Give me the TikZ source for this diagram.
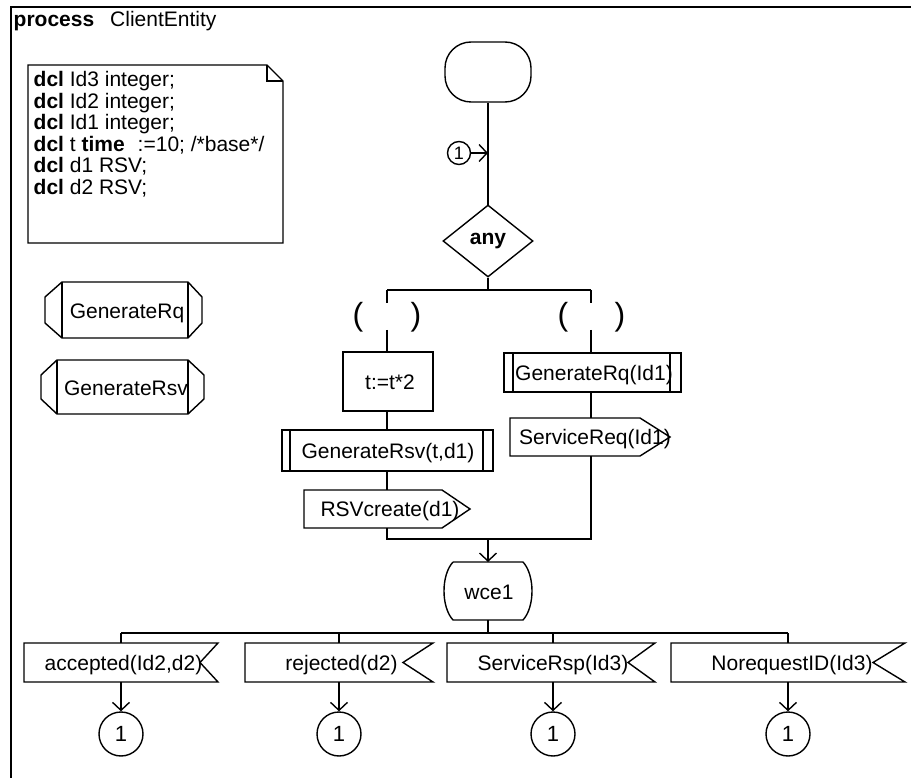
\documentclass[tikz,border=0pt]{standalone}
\usepackage{fontspec}
\setmainfont{Liberation Sans}
\usetikzlibrary{arrows.meta,shapes.geometric}
\begin{document}
\begin{tikzpicture}[x=1pt,y=-1pt,
  line width=1.4pt,
  every node/.style={font=\fontsize{21}{17}\selectfont},
  sh/.style={inner sep=0pt,outer sep=0pt,draw=none},
  txt/.style={inner sep=0pt,outer sep=0pt,text height=15pt,text depth=0pt},
  dclline/.style={anchor=base west,inner sep=0pt},
  arr/.style={-{Straight Barb[length=8pt,width=17pt,line width=1.4pt]}},
  conn/.style={circle,draw,inner sep=0pt,minimum size=44pt,font=\fontsize{22}{22}\selectfont},
  paren/.style={inner sep=0pt,font=\fontsize{32}{32}\selectfont},
]
\fill[white] (0,0) rectangle (911,778);
\useasboundingbox (0,0) rectangle (911,778);

% frame
\draw[line width=2pt] (911,7) -- (11,7) -- (11,778);
\node[anchor=base west,inner sep=0pt] (title) at (13,27) {\textbf{process}\hspace{16pt}ClientEntity};

% declarations
\node[sh,minimum width=255pt,minimum height=178pt] (dclbox) at (155.5,154) {};
\draw (28,65) -- (267,65) -- (283,81) -- (283,243) -- (28,243) -- cycle;
\draw (267,65) -- (267,81) -- (283,81);
\node[dclline] (dcl1) at (33,87)    {\textbf{dcl} Id3 integer;};
\node[dclline] (dcl2) at (33,108.5) {\textbf{dcl} Id2 integer;};
\node[dclline] (dcl3) at (33,130)   {\textbf{dcl} Id1 integer;};
\node[dclline] (dcl4) at (33,151.5) {\textbf{dcl} t \textbf{time}\hspace{13pt}:=10; /*base*/};
\node[dclline] (dcl5) at (33,173)   {\textbf{dcl} d1 RSV;};
\node[dclline] (dcl6) at (33,194.5) {\textbf{dcl} d2 RSV;};

% procedure references
\node[sh,minimum width=157pt,minimum height=56pt] (pr1) at (123.5,310) {};
\draw (62,282) -- (188,282) -- (202,297) -- (202,323) -- (188,338) -- (62,338) -- (45,323) -- (45,297) -- cycle;
\draw (62,282) -- (62,338) (188,282) -- (188,338);
\node[txt] (pr1t) at (127,311) {GenerateRq};
\node[sh,minimum width=163pt,minimum height=54pt] (pr2) at (122.5,387) {};
\draw (57,360) -- (188,360) -- (204,375) -- (204,399) -- (188,414) -- (57,414) -- (41,399) -- (41,375) -- cycle;
\draw (57,360) -- (57,414) (188,360) -- (188,414);
\node[txt] (pr2t) at (126,388) {GenerateRsv};

% start, connector, decision
\node[draw,rounded corners=26pt,minimum width=86pt,minimum height=60pt,inner sep=0pt] (start) at (488,72) {};
\node[circle,draw,inner sep=0pt,minimum size=23pt,font=\fontsize{18}{18}\selectfont] (c0) at (459,153) {1};
\draw (start.south) -- (start.south |- c0.east);
\draw (start.south |- c0.east) -- ++(0,52);
\draw[arr] (c0.east) -- (c0.east -| start.south);
\node[diamond,draw,minimum width=90pt,minimum height=72pt,inner sep=0pt] (any) at (488,241) {\textbf{any}};
\draw (start.south |- any.north) -- (any.north);

% branches
\coordinate (bl) at (387,290);
\coordinate (br) at (591,290);
\coordinate (bl1) at (387,303);
\coordinate (br1) at (591,303);
\coordinate (bl2) at (387,330);
\coordinate (br2) at (591,330);
\draw (any.south) -- (any.south |- bl);
\draw (bl) -- (br);
\draw (bl) -- (bl1);
\draw (br) -- (br1);
\node[paren] (p1) at (358,317) {(};
\node[paren] (p2) at (416,317) {)};
\node[paren] (p3) at (563,317) {(};
\node[paren] (p4) at (620,317) {)};

% left branch
\node[draw,minimum width=90pt,minimum height=59pt,inner sep=0pt] (tbox) at (388,381.5) {};
\node[txt] (tboxt) at (390,382) {t:=t*2};
\draw (bl2) -- (bl2 |- tbox.north);
\node[draw,minimum width=211pt,minimum height=41pt,inner sep=0pt] (grsv) at (387.5,450.5) {};
\node[txt] (grsvt) at (388,451) {GenerateRsv(t,d1)};
\draw (290,430) -- (290,471) (483,430) -- (483,471);
\draw (bl2 |- tbox.south) -- (bl2 |- grsv.north);
\node[sh,minimum width=166pt,minimum height=38pt] (rsvc) at (387,509) {};
\draw (304,490) -- (442,490) -- (470,509) -- (442,528) -- (304,528) -- cycle;
\node[txt] (rsvct) at (390,509) {RSVcreate(d1)};
\draw (bl2 |- grsv.south) -- (bl2 |- rsvc.north);

% right branch
\node[draw,minimum width=177pt,minimum height=39pt,inner sep=0pt] (grq) at (592.5,372.5) {};
\node[txt] (grqt) at (594,373) {GenerateRq(Id1)};
\draw (513,353) -- (513,392) (670,353) -- (670,392);
\draw (br2) -- (br2 |- grq.north);
\node[sh,minimum width=160pt,minimum height=38pt] (sreq) at (590,437) {};
\draw (510,418) -- (640,418) -- (670,437) -- (640,456) -- (510,456) -- cycle;
\node[txt] (sreqt) at (595,437) {ServiceReq(Id1)};
\draw (br2 |- grq.south) -- (br2 |- sreq.north);

% merge
\coordinate (ml) at (387,539);
\coordinate (mr) at (591,539);
\coordinate (mm) at (488,539);
\draw (bl2 |- rsvc.south) -- (ml) -- (mr) -- (br2 |- sreq.south);
\node[sh,minimum width=87pt,minimum height=58pt] (wce) at (488,591) {};
\draw (453,562) -- (523,562) .. controls (535,575) and (535,607) .. (523,620) -- (453,620) .. controls (441,607) and (441,575) .. (453,562);
\node[txt] (wcet) at (489,592) {wce1};
\draw[arr] (mm) -- (wce.north);

% inputs
\coordinate (h1) at (121,633);
\coordinate (h2) at (339,633);
\coordinate (h3) at (553,633);
\coordinate (h4) at (788,633);
\draw (wce.south) -- (wce.south |- h1);
\draw (h1) -- (h4);

\node[sh,minimum width=194pt,minimum height=39pt] (in1) at (121,662.5) {};
\draw (24,643) -- (218,643) -- (200,662.5) -- (218,682) -- (24,682) -- cycle;
\node[txt] (in1t) at (123.5,663) {accepted(Id2,d2)};
\node[sh,minimum width=188pt,minimum height=39pt] (in2) at (339,662.5) {};
\draw (245,643) -- (433,643) -- (403,662.5) -- (433,682) -- (245,682) -- cycle;
\node[txt] (in2t) at (341.5,663) {rejected(d2)};
\node[sh,minimum width=208pt,minimum height=39pt] (in3) at (551,662.5) {};
\draw (447,643) -- (655,643) -- (628,662.5) -- (655,682) -- (447,682) -- cycle;
\node[txt] (in3t) at (553,663) {ServiceRsp(Id3)};
\node[sh,minimum width=234pt,minimum height=39pt] (in4) at (788,662.5) {};
\draw (671,643) -- (905,643) -- (873,662.5) -- (905,682) -- (671,682) -- cycle;
\node[txt] (in4t) at (792,663) {NorequestID(Id3)};

\draw (h1) -- (h1 |- in1.north);
\draw (h2) -- (h2 |- in2.north);
\draw (h3) -- (h3 |- in3.north);
\draw (h4) -- (h4 |- in4.north);

\node[conn] (c1) at (121,734) {1};
\node[conn] (c2) at (339,734) {1};
\node[conn] (c3) at (553,734) {1};
\node[conn] (c4) at (788,734) {1};
\draw[arr] (c1 |- in1.south) -- (c1.north);
\draw[arr] (c2 |- in2.south) -- (c2.north);
\draw[arr] (c3 |- in3.south) -- (c3.north);
\draw[arr] (c4 |- in4.south) -- (c4.north);
\end{tikzpicture}
\end{document}
